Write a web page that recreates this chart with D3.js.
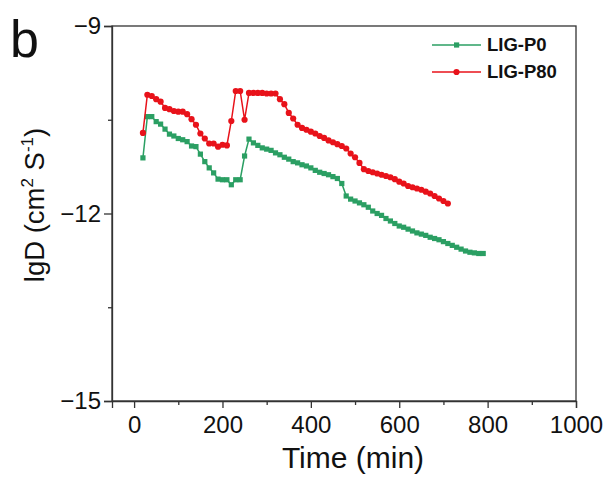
<!DOCTYPE html>
<html>
<head>
<meta charset="utf-8">
<script src="https://cdn.jsdelivr.net/npm/d3@7"></script>
<style>
  body { margin: 0; background: #fff; }
  text { font-family: "Liberation Sans", Arial, sans-serif; }
</style>
</head>
<body>
<div id="chart"></div>
<script>
// time (min), 10 min step
const timeP0 = d3.range(20, 791, 10);
const timeP80 = d3.range(20, 711, 10);

const lgdP0 = [
  -11.11, -10.45, -10.45, -10.53, -10.57, -10.65, -10.73, -10.76, -10.80, -10.82,
  -10.85, -10.92, -10.93, -11.05, -11.17, -11.27, -11.35, -11.45, -11.46, -11.46,
  -11.54, -11.46, -11.46, -11.08, -10.81, -10.87, -10.91, -10.95, -10.97, -10.99,
  -11.03, -11.06, -11.10, -11.13, -11.17, -11.19, -11.22, -11.24, -11.27, -11.31,
  -11.34, -11.36, -11.38, -11.41, -11.44, -11.52, -11.72, -11.77, -11.80, -11.83,
  -11.86, -11.90, -11.96, -12.00, -12.03, -12.08, -12.12, -12.16, -12.20, -12.22,
  -12.25, -12.28, -12.31, -12.33, -12.35, -12.38, -12.40, -12.42, -12.45, -12.48,
  -12.51, -12.54, -12.57, -12.60, -12.62, -12.63, -12.64, -12.64
];

const lgdP80 = [
  -10.71, -10.10, -10.12, -10.17, -10.21, -10.31, -10.33, -10.36, -10.37, -10.37,
  -10.41, -10.49, -10.58, -10.72, -10.80, -10.88, -10.88, -10.93, -10.90, -10.91,
  -10.52, -10.04, -10.04, -10.50, -10.07, -10.07, -10.07, -10.07, -10.08, -10.08,
  -10.08, -10.17, -10.25, -10.39, -10.48, -10.58, -10.63, -10.66, -10.69, -10.72,
  -10.76, -10.79, -10.83, -10.86, -10.89, -10.92, -10.96, -11.04, -11.10, -11.19,
  -11.29, -11.32, -11.34, -11.36, -11.38, -11.40, -11.42, -11.45, -11.49, -11.52,
  -11.56, -11.58, -11.60, -11.62, -11.65, -11.68, -11.72, -11.76, -11.80, -11.84
];

const xTicks = [0, 200, 400, 600, 800, 1000];
const xMinor = [100, 300, 500, 700, 900];
const yTicks = [-15, -12, -9];
const yMinor = [-13.5, -10.5];

const width = 610, height = 477;
const margin = { top: 26, right: 34, bottom: 76, left: 112 };

const svg = d3.select("#chart").append("svg")
  .attr("width", width)
  .attr("height", height);

const x = d3.scaleLinear().domain([-50, 1000]).range([margin.left, width - margin.right]);
const y = d3.scaleLinear().domain([-15, -9]).range([height - margin.bottom, margin.top]);

const green = "#2b9f63", red = "#e8121a";

// frame
svg.append("rect")
  .attr("x", margin.left).attr("y", margin.top)
  .attr("width", width - margin.left - margin.right)
  .attr("height", height - margin.top - margin.bottom)
  .attr("fill", "none").attr("stroke", "#333").attr("stroke-width", 1.3);

// x axis
svg.append("g")
  .attr("transform", `translate(0,${height - margin.bottom})`)
  .call(d3.axisBottom(x).tickValues(xTicks).tickSize(7).tickPadding(8).tickFormat(d3.format("d")));
svg.append("g")
  .attr("transform", `translate(0,${height - margin.bottom})`)
  .call(d3.axisBottom(x).tickValues(xMinor).tickSize(4).tickFormat(""))
  .call(g => g.select(".domain").remove());

// y axis
svg.append("g")
  .attr("transform", `translate(${margin.left},0)`)
  .call(d3.axisLeft(y).tickValues(yTicks).tickSize(8).tickPadding(3).tickFormat(d => "\u2212" + Math.abs(d)));
svg.append("g")
  .attr("transform", `translate(${margin.left},0)`)
  .call(d3.axisLeft(y).tickValues(yMinor).tickSize(4).tickFormat(""))
  .call(g => g.select(".domain").remove());

svg.selectAll(".domain").attr("stroke", "#333").attr("stroke-width", 1.3);
svg.selectAll(".tick line").attr("stroke", "#333").attr("stroke-width", 1.3);
svg.selectAll(".tick text").attr("font-size", 24).attr("fill", "#111")
  .style("font-family", "'Liberation Sans', Arial, sans-serif");

// series
function drawSeries(times, vals, color, shape) {
  const data = times.map((t, i) => ({ t: t, v: vals[i] }));
  svg.append("path")
    .datum(data)
    .attr("fill", "none")
    .attr("stroke", color)
    .attr("stroke-width", 1.5)
    .attr("d", d3.line().x(d => x(d.t)).y(d => y(d.v)));
  if (shape === "square") {
    svg.selectAll(null).data(data).enter().append("rect")
      .attr("x", d => x(d.t) - 2.6).attr("y", d => y(d.v) - 2.6)
      .attr("width", 5.2).attr("height", 5.2)
      .attr("fill", color);
  } else {
    svg.selectAll(null).data(data).enter().append("circle")
      .attr("cx", d => x(d.t)).attr("cy", d => y(d.v))
      .attr("r", 3.1)
      .attr("fill", color);
  }
}
drawSeries(timeP0, lgdP0, green, "square");
drawSeries(timeP80, lgdP80, red, "circle");

// legend
const legend = [
  { name: "LIG-P0", color: green, shape: "square", y: 45 },
  { name: "LIG-P80", color: red, shape: "circle", y: 72 }
];
legend.forEach(l => {
  svg.append("line").attr("x1", 432).attr("x2", 481).attr("y1", l.y).attr("y2", l.y)
    .attr("stroke", l.color).attr("stroke-width", 1.5);
  if (l.shape === "square") {
    svg.append("rect").attr("x", 454).attr("y", l.y - 2.6).attr("width", 5.2).attr("height", 5.2).attr("fill", l.color);
  } else {
    svg.append("circle").attr("cx", 456.5).attr("cy", l.y).attr("r", 3.1).attr("fill", l.color);
  }
  svg.append("text").attr("x", 487).attr("y", l.y).attr("dy", "0.35em")
    .attr("font-size", 18.5).attr("font-weight", "bold").attr("fill", "#111").text(l.name);
});

// axis titles
svg.append("text")
  .attr("x", 353)
  .attr("y", 468)
  .attr("text-anchor", "middle")
  .attr("font-size", 30).attr("fill", "#111")
  .text("Time (min)");

const yt = svg.append("text")
  .attr("transform", "translate(44,205) rotate(-90)")
  .attr("text-anchor", "middle")
  .attr("font-size", 27.5).attr("fill", "#111");
yt.append("tspan").text("lgD (cm");
yt.append("tspan").attr("dy", -11).attr("font-size", 17).text("2");
yt.append("tspan").attr("dy", 11).text(" S");
yt.append("tspan").attr("dy", -11).attr("font-size", 17).text("-1");
yt.append("tspan").attr("dy", 11).text(")");

// panel label
svg.append("text")
  .attr("x", 10).attr("y", 57)
  .attr("font-size", 52).attr("fill", "#111")
  .text("b");
</script>
</body>
</html>
